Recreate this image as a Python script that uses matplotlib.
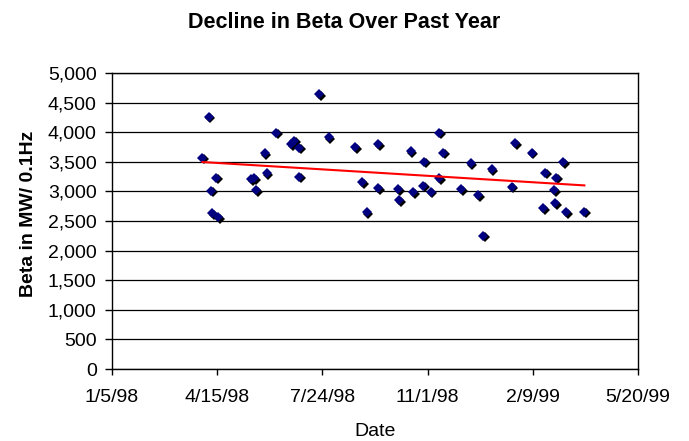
import datetime as dt
import matplotlib
matplotlib.use('Agg')
import matplotlib.pyplot as plt
import matplotlib.dates as mdates
import matplotlib.transforms as mtransforms
import numpy as np

plt.rcParams['font.family'] = ['Liberation Sans', 'DejaVu Sans']

# readings taken off the chart
dates = ['1998-04-01', '1998-04-07', '1998-04-09', '1998-04-10', '1998-04-14',
         '1998-04-16', '1998-05-17', '1998-05-20', '1998-05-22', '1998-05-30',
         '1998-06-01', '1998-06-10', '1998-06-24', '1998-06-27', '1998-07-02',
         '1998-07-02', '1998-07-21', '1998-07-30', '1998-08-24', '1998-08-31',
         '1998-09-04', '1998-09-15', '1998-09-15', '1998-10-04', '1998-10-05',
         '1998-10-16', '1998-10-18', '1998-10-28', '1998-10-29', '1998-11-04',
         '1998-11-12', '1998-11-12', '1998-11-16', '1998-12-03', '1998-12-12',
         '1998-12-19', '1998-12-24', '1999-01-01', '1999-01-20', '1999-01-23',
         '1999-02-08', '1999-02-19', '1999-02-21', '1999-03-01', '1999-03-02',
         '1999-03-03', '1999-03-10', '1999-03-13', '1999-03-30']
beta = [3570, 4260, 3010, 2630, 3230,
        2570, 3210, 3220, 3020, 3650,
        3305, 3990, 3795, 3855, 3740,
        3250, 4645, 3915, 3745, 3155,
        2645, 3795, 3060, 3040, 2855,
        3675, 2985, 3095, 3500, 2995,
        3990, 3220, 3655, 3040, 3475,
        2940, 2250, 3375, 3080, 3810,
        3655, 2715, 3315, 3025, 2800,
        3230, 3490, 2645, 2655]

tick_dates = ['1998-01-05', '1998-04-15', '1998-07-24', '1998-11-01', '1999-02-09', '1999-05-20']
y_ticks = list(range(0, 5001, 500))

x = [dt.datetime.strptime(d, '%Y-%m-%d') for d in dates]
xt = [dt.datetime.strptime(d, '%Y-%m-%d') for d in tick_dates]
xn = mdates.date2num(x)

fig = plt.figure(figsize=(6.89, 4.41), dpi=100)
ax = fig.add_axes([112/689, 1 - 369/441, 526/689, 296/441])

# black shadow under each diamond, then the navy diamond
shadow = mtransforms.offset_copy(ax.transData, fig=fig, x=1.2, y=-1.2, units='points')
ax.plot(x, beta, 'D', ms=5, color='black', mec='black', mew=0, transform=shadow, zorder=3)
ax.plot(x, beta, 'D', ms=5, color='#000080', mec='#000080', mew=0, zorder=4)

# linear trend
k, b = np.polyfit(xn, beta, 1)
xs = np.array([xn.min(), xn.max()])
ax.plot(mdates.num2date(xs), k * xs + b, color='red', lw=1.5, zorder=5)

ax.set_xlim(xt[0], xt[-1])
ax.set_ylim(0, 5000)
ax.set_xticks(xt)
ax.set_xticklabels([f'{d.month}/{d.day}/{d.strftime("%y")}' for d in xt])
ax.set_yticks(y_ticks)
ax.set_yticklabels([f'{v:,}' for v in y_ticks])
ax.yaxis.grid(True, color='black', lw=0.9)
ax.set_axisbelow(True)
for s in ax.spines.values():
    s.set_linewidth(1.0)
ax.tick_params(axis='x', direction='out', length=4.5, width=1, labelsize=14, pad=10)
ax.tick_params(axis='y', direction='out', length=5, width=1, labelsize=14, pad=6)

fig.text(0.5, 1 - 28.3/441, 'Decline in Beta Over Past Year', ha='center', va='baseline',
         fontsize=15.5, fontweight='bold')
fig.text(375/689, 1 - 436/441, 'Date', ha='center', va='baseline', fontsize=14)
fig.text(29/689, 1 - 213.5/441, 'Beta in MW/ 0.1Hz', ha='center', va='center',
         rotation=90, fontsize=14, fontweight='bold')

fig.savefig('out.png', dpi=100)
